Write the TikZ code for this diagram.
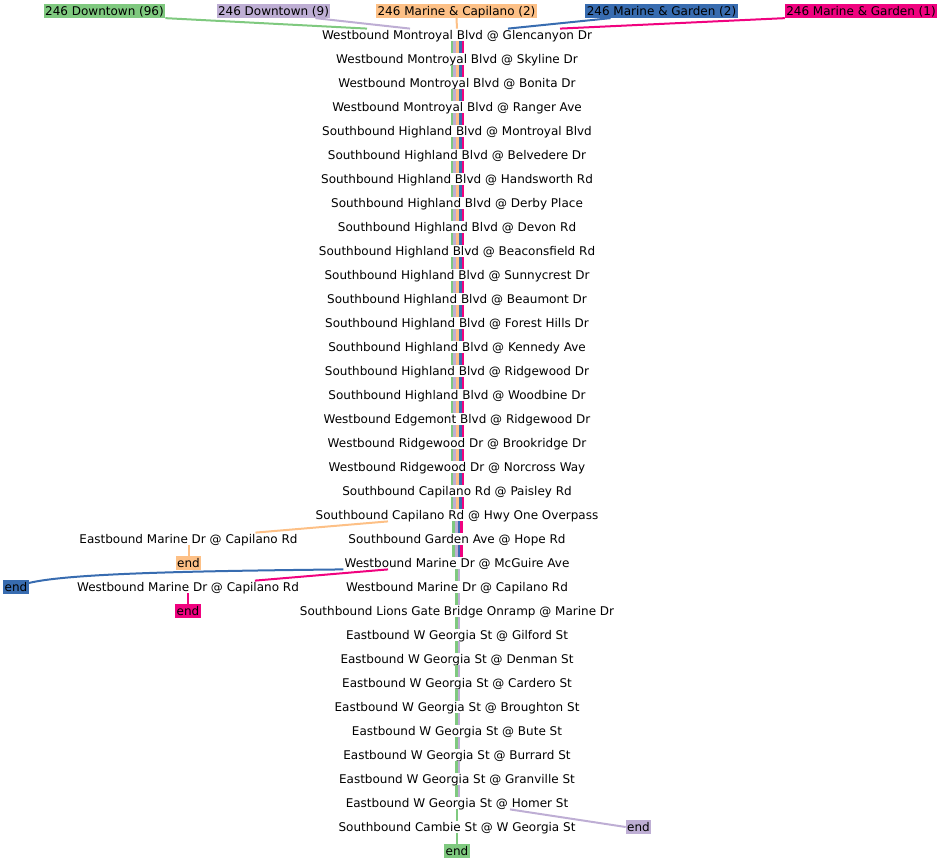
\documentclass[tikz,border=0pt]{standalone}
\usepackage{fontspec}
\setmainfont{DejaVu Sans}
\definecolor{cg}{HTML}{7FC97F}
\definecolor{cp}{HTML}{BEAED4}
\definecolor{co}{HTML}{FDC086}
\definecolor{cb}{HTML}{386CB0}
\definecolor{ck}{HTML}{F0027F}
\tikzset{
 stop/.style={inner sep=0pt, inner xsep=1pt, text height=10.35pt, text depth=2.05pt, font=\fontsize{12}{13}\selectfont},
 tag/.style={inner sep=0pt, inner xsep=1.3pt, text height=11.1pt, text depth=2.8pt, font=\fontsize{12}{13}\selectfont, fill=#1},
 route/.style={draw=#1, line width=2pt},
 bar/.style={draw=#1, line width=2.7pt},
}
\begin{document}
\begin{tikzpicture}[x=1pt,y=-1pt]
\useasboundingbox (0,0) rectangle (943,864);
% route labels
\node[tag=cg] (rg) at (104.5,11) {246 Downtown (96)};
\node[tag=cp] (rp) at (273.5,11) {246 Downtown (9)};
\node[tag=co] (ro) at (456.5,11) {246 Marine \& Capilano (2)};
\node[tag=cb] (rb) at (661.5,11) {246 Marine \& Garden (2)};
\node[tag=ck] (rk) at (861,11) {246 Marine \& Garden (1)};
% stops
\foreach \t [count=\i from 0] in {
Westbound Montroyal Blvd @ Glencanyon Dr,
Westbound Montroyal Blvd @ Skyline Dr,
Westbound Montroyal Blvd @ Bonita Dr,
Westbound Montroyal Blvd @ Ranger Ave,
Southbound Highland Blvd @ Montroyal Blvd,
Southbound Highland Blvd @ Belvedere Dr,
Southbound Highland Blvd @ Handsworth Rd,
Southbound Highland Blvd @ Derby Place,
Southbound Highland Blvd @ Devon Rd,
Southbound Highland Blvd @ Beaconsfield Rd,
Southbound Highland Blvd @ Sunnycrest Dr,
Southbound Highland Blvd @ Beaumont Dr,
Southbound Highland Blvd @ Forest Hills Dr,
Southbound Highland Blvd @ Kennedy Ave,
Southbound Highland Blvd @ Ridgewood Dr,
Southbound Highland Blvd @ Woodbine Dr,
Westbound Edgemont Blvd @ Ridgewood Dr,
Westbound Ridgewood Dr @ Brookridge Dr,
Westbound Ridgewood Dr @ Norcross Way,
Southbound Capilano Rd @ Paisley Rd,
Southbound Capilano Rd @ Hwy One Overpass,
Southbound Garden Ave @ Hope Rd,
Westbound Marine Dr @ McGuire Ave,
Westbound Marine Dr @ Capilano Rd,
Southbound Lions Gate Bridge Onramp @ Marine Dr,
Eastbound W Georgia St @ Gilford St,
Eastbound W Georgia St @ Denman St,
Eastbound W Georgia St @ Cardero St,
Eastbound W Georgia St @ Broughton St,
Eastbound W Georgia St @ Bute St,
Eastbound W Georgia St @ Burrard St,
Eastbound W Georgia St @ Granville St,
Eastbound W Georgia St @ Homer St,
Southbound Cambie St @ W Georgia St}
  {\node[stop] (s\i) at (457,{35+24*\i}) {\t};}
\node[stop] (ebm) at (188.5,539) {Eastbound Marine Dr @ Capilano Rd};
\node[stop] (wmc) at (188,587) {Westbound Marine Dr @ Capilano Rd};
% ends
\node[tag=co] (eo) at (188.5,563) {end};
\node[tag=ck] (ek) at (188,611) {end};
\node[tag=cb] (eb) at (16,587) {end};
\node[tag=cp] (ep) at (638.5,827) {end};
\node[tag=cg] (eg) at (457,851) {end};
% top connectors
\draw[route=cg] (rg.south east) -- ([xshift=-90]s0.north);
\draw[route=cp] ([xshift=-15]rp.south east) -- ([xshift=-47]s0.north);
\draw[route=co] (ro.south) -- (s0.north);
\draw[route=cb] ([xshift=-51]rb.south) -- ([xshift=51]s0.north);
\draw[route=ck] (rk.south west) -- ([xshift=103]s0.north);
% bundles: five routes
\foreach \i in {0,...,19}{
  \pgfmathtruncatemacro\j{\i+1}
  \foreach \c [count=\k from 0] in {cg,cp,co,cb,ck}
    {\draw[bar=\c] ([xshift={(\k-2)*2.7+0.5}]s\i.south) -- ([xshift={(\k-2)*2.7+0.5}]s\j.north);}
}
% four routes
\foreach \i in {20,21}{
  \pgfmathtruncatemacro\j{\i+1}
  \foreach \c [count=\k from 0] in {cg,cp,cb,ck}
    {\draw[bar=\c] ([xshift={(\k-1.5)*2.7+0.5}]s\i.south) -- ([xshift={(\k-1.5)*2.7+0.5}]s\j.north);}
}
% two routes
\foreach \i in {22,...,31}{
  \pgfmathtruncatemacro\j{\i+1}
  \foreach \c [count=\k from 0] in {cg,cp}
    {\draw[bar=\c] ([xshift={(\k-0.5)*2.7+0.5}]s\i.south) -- ([xshift={(\k-0.5)*2.7+0.5}]s\j.north);}
}
% single
\draw[bar=cg] (s32.south) -- (s33.north);
\draw[bar=cg] (s33.south) -- (eg.north);
% branches
\draw[route=co] ([xshift=-69]s20.south) -- ([xshift=67]ebm.north);
\draw[route=co] (ebm.south) -- (eo.north);
\draw[route=ck] ([xshift=-69]s22.south) -- ([xshift=67]wmc.north);
\draw[route=ck] (wmc.south) -- (ek.north);
\draw[route=cb] (s22.south west) .. controls (200,571) and (70,573) .. ([yshift=4]eb.east);
\draw[route=cp] ([xshift=53]s32.south) -- (ep.west);
\end{tikzpicture}
\end{document}
